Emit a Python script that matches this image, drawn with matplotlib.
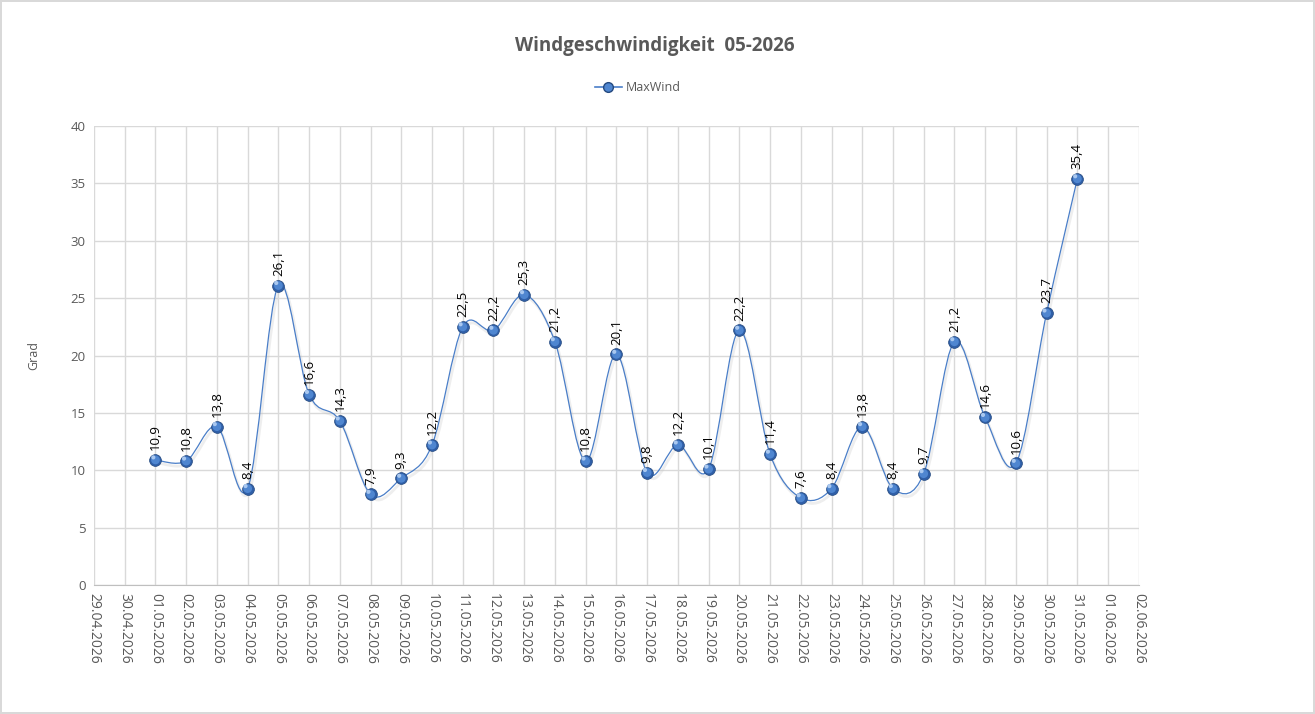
import matplotlib

matplotlib.use("Agg")
import matplotlib.pyplot as plt
import numpy as np
from matplotlib.lines import Line2D
from matplotlib.patches import PathPatch
from matplotlib.path import Path

TITLE = "Windgeschwindigkeit  05-2026"
SERIES = "MaxWind"
Y_LABEL = "Grad"

# axis dates, 29.04.2026 .. 02.06.2026
AXIS_DATES = ["29.04.2026", "30.04.2026"] + [f"{d:02d}.05.2026" for d in range(1, 32)] + ["01.06.2026", "02.06.2026"]
DATA_DATES = [f"{d:02d}.05.2026" for d in range(1, 32)]
MAX_WIND = [10.9, 10.8, 13.8, 8.4, 26.1, 16.6, 14.3, 7.9, 9.3, 12.2,
            22.5, 22.2, 25.3, 21.2, 10.8, 20.1, 9.8, 12.2, 10.1, 22.2,
            11.4, 7.6, 8.4, 13.8, 8.4, 9.7, 21.2, 14.6, 10.6, 23.7, 35.4]

FONT = ["Open Sans", "DejaVu Sans"]
GRAY = "#595959"
LINE = "#4a7ec8"


def smooth_path(xs, ys, dx=0.0, dy=0.0):
    # Excel-like smoothed line: Catmull-Rom segments as cubic Bezier
    pts = np.column_stack([xs, ys]).astype(float)
    pts[:, 0] += dx
    pts[:, 1] += dy
    verts = [pts[0]]
    codes = [Path.MOVETO]
    n = len(pts)
    for i in range(n - 1):
        p0 = pts[i - 1] if i > 0 else pts[i]
        p1 = pts[i]
        p2 = pts[i + 1]
        p3 = pts[i + 2] if i + 2 < n else pts[i + 1]
        c1 = p1 + (p2 - p0) / 6.0
        c2 = p2 - (p3 - p1) / 6.0
        verts += [c1, c2, p2]
        codes += [Path.CURVE4] * 3
    return Path(verts, codes)


fig = plt.figure(figsize=(13.15, 7.14), dpi=100)
fig.patch.set_facecolor("white")
fig.patch.set_edgecolor("#d9d9d9")
fig.patch.set_linewidth(1.5)
ax = fig.add_axes([0.0715, 0.1807, 0.7945, 0.6428])

x_all = np.arange(len(AXIS_DATES))
pos = {d: i for i, d in enumerate(AXIS_DATES)}
xs = np.array([pos[d] for d in DATA_DATES], dtype=float)
ys = np.array(MAX_WIND, dtype=float)

# soft shadow then line
ax.add_patch(PathPatch(smooth_path(xs, ys, 0.05, -0.25), facecolor="none",
                       edgecolor="#c8c8c8", lw=2.0, alpha=0.3, zorder=2))
ax.add_patch(PathPatch(smooth_path(xs, ys), facecolor="none",
                       edgecolor=LINE, lw=0.9, zorder=3))

# sphere-like markers
ax.scatter(xs, ys, s=72, c="#2f5fa8", edgecolors="#24497f", linewidths=0.5, zorder=4)
ax.scatter(xs, ys, s=40, c="#4f86d0", edgecolors="none", zorder=5)
ax.scatter(xs - 0.07, ys + 0.22, s=9, c="#a9c8f0", edgecolors="none", zorder=6)

for x, y in zip(xs, ys):
    ax.annotate(f"{y:.1f}".replace(".", ","), (x, y), xytext=(0, 7), textcoords="offset points",
                rotation=90, ha="center", va="bottom", fontsize=9.5, color="black",
                family=FONT, zorder=7)

ax.set_xlim(x_all[0], x_all[-1])
ax.set_ylim(0, 40)
ax.set_yticks(np.arange(0, 41, 5))
ax.set_xticks(x_all)
ax.set_xticklabels(AXIS_DATES, rotation=-90, family=FONT, fontsize=10)
for lbl in ax.get_yticklabels():
    lbl.set_family(FONT)
    lbl.set_fontsize(9.5)
ax.tick_params(axis="both", colors=GRAY, length=0, pad=6)
ax.grid(True, color="#d9d9d9", lw=1.0, zorder=0)
ax.set_axisbelow(True)
for side in ["top", "right", "left"]:
    ax.spines[side].set_visible(False)
ax.spines["bottom"].set_color("#bfbfbf")

ax.set_ylabel(Y_LABEL, color=GRAY, fontsize=9, family=FONT, labelpad=22)

fig.text(0.498, 0.935, TITLE, ha="center", va="center", fontsize=13.5, fontweight="bold",
         color=GRAY, family=FONT)

handle = Line2D([0], [0], color=LINE, lw=1.2, marker="o", markersize=7,
                markerfacecolor="#4f86d0", markeredgecolor="#24497f")
fig.legend(handles=[handle], labels=[SERIES], loc="center", bbox_to_anchor=(0.485, 0.877),
           frameon=False, prop={"family": FONT, "size": 9}, labelcolor=GRAY,
           handlelength=2.2, handletextpad=0.3)

fig.savefig("out.png", dpi=100, facecolor=fig.get_facecolor(), edgecolor=fig.get_edgecolor())
